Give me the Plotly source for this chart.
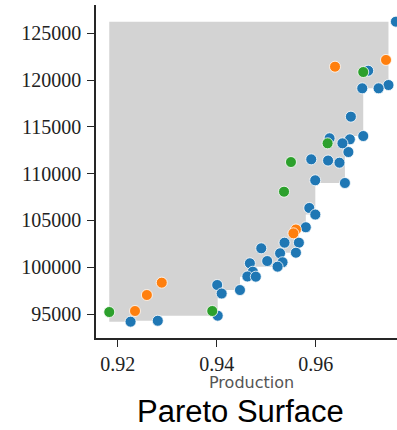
import plotly.graph_objects as go

# ---- data ----
blue_x = [0.9762, 0.9747, 0.9727, 0.9706, 0.9694, 0.9696, 0.9671, 0.9669, 0.9666, 0.9659,
          0.9654, 0.9648, 0.9628, 0.9625, 0.9591, 0.9599, 0.9587, 0.95992, 0.9580, 0.9566,
          0.9560, 0.9537, 0.9528, 0.9533, 0.9523, 0.9502, 0.9490, 0.9467, 0.9473, 0.9462,
          0.9479, 0.9447, 0.9401, 0.9410, 0.9402, 0.9281, 0.9226]
blue_y = [126240, 119470, 119120, 121000, 119120, 114020, 116090, 113670, 112310, 109000,
          113240, 111170, 113780, 111400, 111530, 109290, 106330, 105630, 104270, 102620,
          101550, 102620, 101490, 100530, 100060, 100660, 102020, 100420, 99520, 99010,
          98990, 97560, 98100, 97190, 94820, 94280, 94180]

orange_x = [0.9742, 0.9639, 0.9560, 0.9555, 0.9289, 0.9259, 0.9235]
orange_y = [122150, 121430, 104030, 103620, 98350, 97030, 95320]

green_x = [0.9696, 0.9624, 0.9550, 0.9536, 0.9391, 0.9183]
green_y = [120860, 113240, 111240, 108070, 95320, 95210]

x_ticks = [0.92, 0.94, 0.96]
x_tick_labels = ["0.92", "0.94", "0.96"]
y_ticks = [95000, 100000, 105000, 110000, 115000, 120000, 125000]
y_tick_labels = [str(v) for v in y_ticks]

# ---- dominated region (staircase) computed from the points ----
all_x = blue_x + orange_x + green_x
all_y = blue_y + orange_y + green_y
pts = sorted(zip(all_x, all_y), key=lambda p: (-p[0], p[1]))
pareto = []
run_min = float("inf")
for px, py in pts:
    if py < run_min:
        pareto.append((px, py))
        run_min = py
xmin = min(all_x)
ymax = max(all_y)
poly_x = [xmin, pareto[0][0]]
poly_y = [ymax, ymax]
prev_y = ymax
for px, py in pareto:
    poly_x += [px, px]
    poly_y += [prev_y, py]
    prev_y = py
poly_x += [xmin, xmin]
poly_y += [prev_y, ymax]

fig = go.Figure()
fig.add_trace(go.Scatter(x=poly_x, y=poly_y, fill="toself", fillcolor="#d3d3d3",
                         mode="lines", line=dict(width=0, color="#d3d3d3"),
                         hoverinfo="skip", showlegend=False))

for xs, ys, col in [(blue_x, blue_y, "#1f77b4"), (orange_x, orange_y, "#ff7f0e"),
                    (green_x, green_y, "#2ca02c")]:
    fig.add_trace(go.Scatter(x=xs, y=ys, mode="markers", showlegend=False,
                             marker=dict(size=11, color=col,
                                         line=dict(color="white", width=0.8))))

axis_common = dict(showgrid=False, zeroline=False, showline=True, linecolor="#262626",
                   linewidth=1.5, ticks="outside", ticklen=7, tickwidth=1.3,
                   tickcolor="#262626", automargin=False,
                   tickfont=dict(family="Liberation Serif", size=20, color="#222222"))

fig.update_layout(
    width=397, height=430,
    margin=dict(l=96, r=0, t=5, b=92, autoexpand=False),
    plot_bgcolor="white", paper_bgcolor="white",
    xaxis=dict(range=[0.91562, 0.97642], tickvals=x_ticks, ticktext=x_tick_labels,
               **axis_common),
    yaxis=dict(range=[92435, 128023], tickvals=y_ticks, ticktext=y_tick_labels,
               ticklabelstandoff=2, **axis_common),
    annotations=[
        dict(text="Production", xref="paper", yref="paper", x=0.515, y=-0.135,
             xanchor="center", yanchor="middle", showarrow=False,
             font=dict(family="DejaVu Sans", size=16, color="#555555")),
        dict(text="Pareto Surface", xref="paper", yref="paper", x=0.4817, y=-0.222,
             xanchor="center", yanchor="middle", showarrow=False,
             font=dict(family="Liberation Sans", size=31, color="black")),
    ],
)

fig.write_html("out.html", config={"displayModeBar": False},
               post_script="document.body.style.margin='0';document.body.style.overflow='hidden';")
